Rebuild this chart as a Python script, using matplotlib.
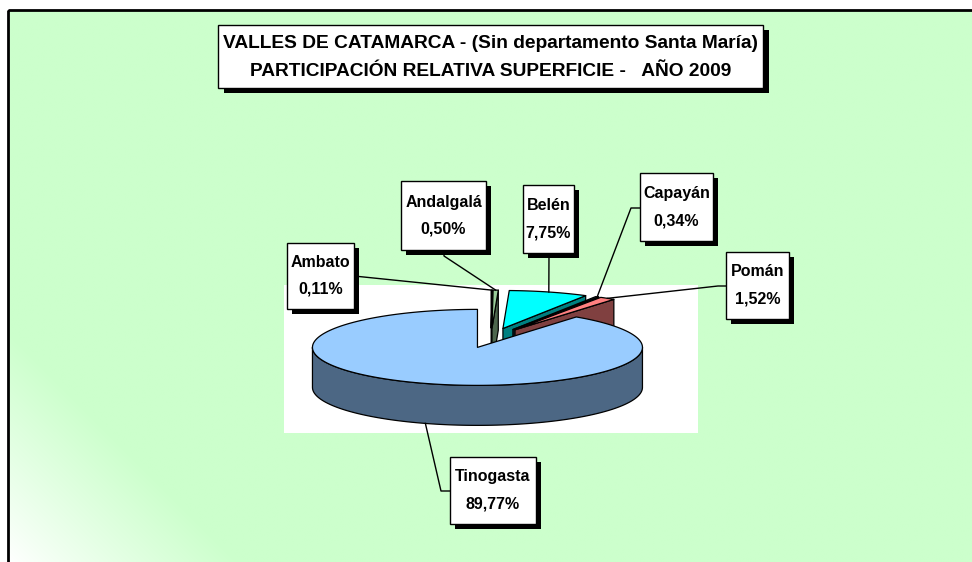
import numpy as np
import matplotlib
matplotlib.use('Agg')
import matplotlib.pyplot as plt
from matplotlib.patches import Polygon, Rectangle

# ---- data ----
departamentos = ['Ambato', 'Andalgalá', 'Belén', 'Capayán', 'Pomán', 'Tinogasta']
superficie_pct = [0.11, 0.50, 7.75, 0.34, 1.52, 89.77]
titulo = ['VALLES DE CATAMARCA - (Sin departamento Santa María)',
          'PARTICIPACIÓN RELATIVA SUPERFICIE -   AÑO 2009']

# ---- styles ----
color_top = ['#CCFFCC', '#99CC99', '#00FFFF', '#1F3F4F', '#FF8080', '#99CCFF']
color_side = ['#668066', '#4D664D', '#008080', '#0F1F28', '#804040', '#4C6784']
# label boxes (x0, y0, x1, y1) in pixels
cajas = [(287, 243, 354, 309), (401, 181, 486, 250), (523, 185, 574, 253),
         (640, 173, 713, 241), (726, 252, 789, 319), (450, 457, 536, 524)]
# leader start points + elbow
guias = [[(354, 276)], [(444, 250), (444, 256)], [(549, 253)],
         [(640, 208), (631, 208)], [(726, 286), (718, 286)], [(450, 491), (441, 491)]]

plt.rcParams['font.family'] = ['Liberation Sans', 'DejaVu Sans']

fig = plt.figure(figsize=(9.72, 5.62), dpi=100)
fig.patch.set_facecolor('white')
ax = fig.add_axes([0, 0, 1, 1])
ax.set_xlim(0, 972)
ax.set_ylim(562, 0)
ax.axis('off')

# background with gradient to white in the lower left corner
H, W = 300, 500
xs = np.linspace(8, 972, W)
ys = np.linspace(10, 562, H)
X, Y = np.meshgrid(xs, ys)
t = np.clip(((X - 8) + (562 - Y)) / 230.0, 0, 1) ** 0.9
verde = np.array([0.8, 1.0, 0.8])
img = 1 - (1 - verde)[None, None, :] * t[:, :, None]
ax.imshow(img, extent=(8, 972, 562, 10), aspect='auto', zorder=0, interpolation='bilinear')
ax.add_patch(Rectangle((8, 10), 1000, 600, fill=False, edgecolor='black', lw=2, zorder=1))

# plot area
ax.add_patch(Rectangle((284, 285), 414, 148, facecolor='white', edgecolor='none', zorder=1))

# ---- 3D pie ----
cx, cy = 491, 338
rx, ry, depth = 165, 38, 40
explode = 0.26


def punto(theta, dx, dy, z=0):
    r = np.radians(theta)
    return (cx + dx + rx * np.sin(r), cy + dy - ry * np.cos(r) + z)


total = sum(superficie_pct)
ini = 0.0
anclas = []
zo = 5
for i, v in enumerate(superficie_pct):
    a = ini
    b = ini + v / total * 360
    ini = b
    bis = (a + b) / 2
    dx = explode * rx * np.sin(np.radians(bis))
    dy = -explode * ry * np.cos(np.radians(bis))
    tip = (cx + dx, cy + dy)
    tip_b = (cx + dx, cy + dy + depth)
    kw = dict(edgecolor='black', lw=0.9, joinstyle='round')
    # radial faces
    if np.sin(np.radians(a)) < -1e-9:
        p, q = punto(a, dx, dy), punto(a, dx, dy, depth)
        ax.add_patch(Polygon([tip, p, q, tip_b], facecolor=color_side[i], zorder=zo, **kw))
    if np.sin(np.radians(b)) > 1e-9:
        p, q = punto(b, dx, dy), punto(b, dx, dy, depth)
        ax.add_patch(Polygon([tip, p, q, tip_b], facecolor=color_side[i], zorder=zo, **kw))
    # outer side
    s0, s1 = max(a, 90), min(b, 270)
    if s1 > s0:
        th = np.linspace(s0, s1, 120)
        arriba = [punto(x, dx, dy) for x in th]
        abajo = [punto(x, dx, dy, depth) for x in th[::-1]]
        ax.add_patch(Polygon(arriba + abajo, facecolor=color_side[i], zorder=zo, **kw))
    # top face
    th = np.linspace(a, b, max(4, int(v * 4)))
    arco = [punto(x, dx, dy) for x in th]
    ax.add_patch(Polygon([tip] + arco, facecolor=color_top[i], zorder=zo + 1, **kw))
    zo += 2
    if 90 < bis < 270:
        anclas.append(punto(bis, dx, dy, depth))
    else:
        anclas.append(punto(bis, dx, dy))

# ---- labels ----
for i, nombre in enumerate(departamentos):
    x0, y0, x1, y1 = cajas[i]
    pts = guias[i] + [anclas[i]]
    ax.plot([p[0] for p in pts], [p[1] for p in pts], color='black', lw=1, zorder=30)
    ax.add_patch(Rectangle((x0 + 5, y0 + 5), x1 - x0, y1 - y0, facecolor='black', edgecolor='none', zorder=31))
    ax.add_patch(Rectangle((x0, y0), x1 - x0, y1 - y0, facecolor='white', edgecolor='black', lw=1, zorder=32))
    xm, ym = (x0 + x1) / 2, (y0 + y1) / 2
    pct = f'{superficie_pct[i]:.2f}%'.replace('.', ',')
    ax.text(xm, ym - 13.5, nombre, ha='center', va='center', fontsize=11.5, fontweight='bold', zorder=33)
    ax.text(xm, ym + 13.5, pct, ha='center', va='center', fontsize=11.5, fontweight='bold', zorder=33)

# ---- title ----
ax.add_patch(Rectangle((224, 30), 545, 63, facecolor='black', edgecolor='none', zorder=31))
ax.add_patch(Rectangle((218, 25), 545, 63, facecolor='white', edgecolor='black', lw=1, zorder=32))
ax.text(490.5, 44, titulo[0], ha='center', va='center', fontsize=13.8, fontweight='bold', zorder=33)
ax.text(490.5, 71, titulo[1], ha='center', va='center', fontsize=13.8, fontweight='bold', zorder=33)

fig.savefig('out.png', dpi=100)
